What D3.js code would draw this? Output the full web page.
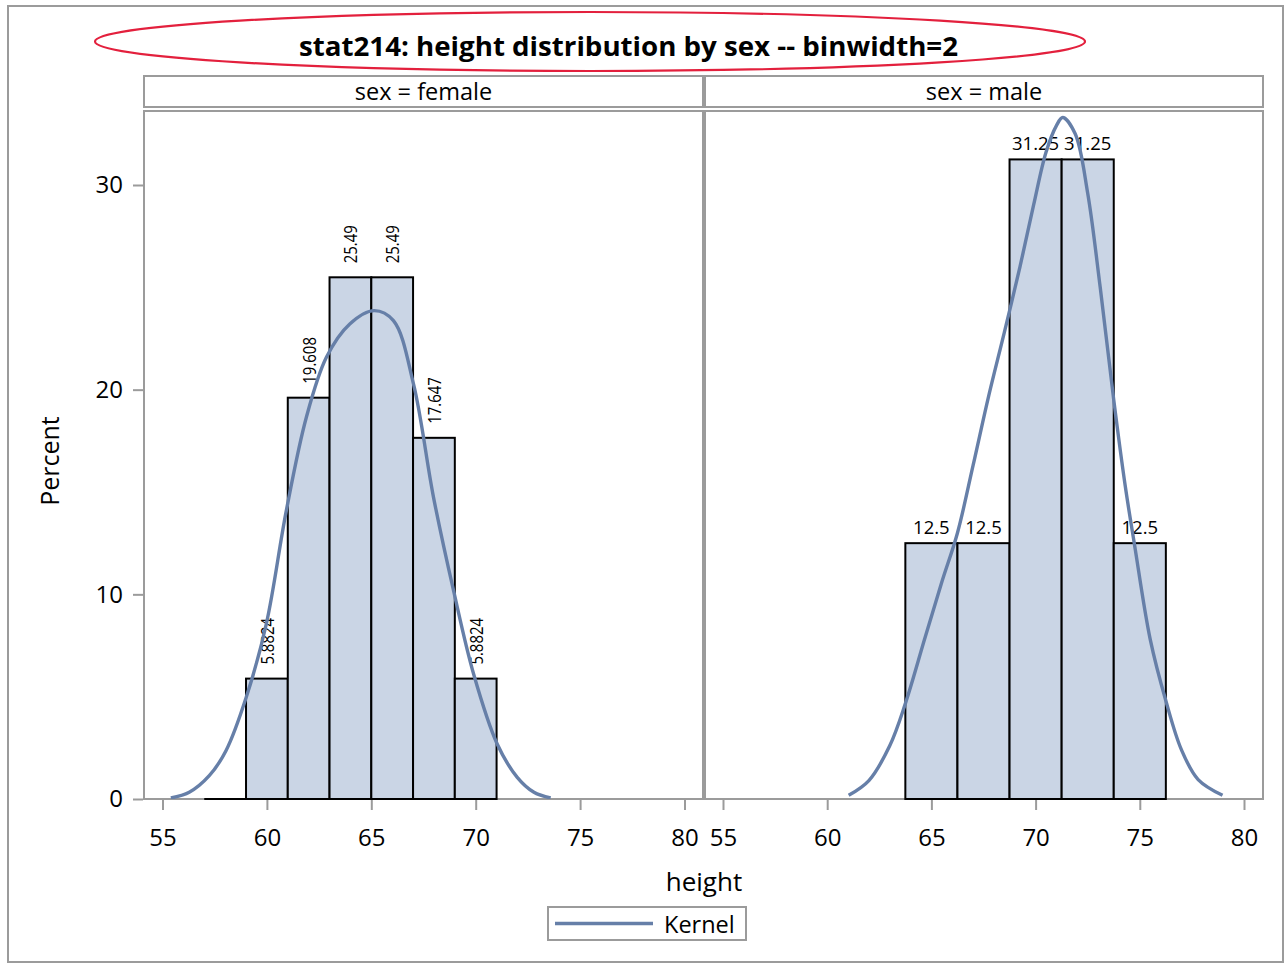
<!DOCTYPE html>
<html>
<head>
<meta charset="utf-8">
<script src="https://cdn.jsdelivr.net/npm/d3@7"></script>
<style>
  html, body { margin: 0; padding: 0; background: #fff; }
  svg { display: block; }
  text { font-family: "Open Sans", "Noto Sans", sans-serif; fill: #000; }
</style>
</head>
<body>
<svg id="chart" width="1285" height="964"></svg>
<script>
// ---- data ----
const panels = ["female", "male"];
const xTicks = [55, 60, 65, 70, 75, 80];
const yTicks = [0, 10, 20, 30];

// histogram bins (lower edge, upper edge) and percentages
const femaleBinStart = [57, 59, 61, 63, 65, 67, 69];
const femaleBinEnd   = [59, 61, 63, 65, 67, 69, 71];
const femalePercent  = [0, 5.8824, 19.608, 25.49, 25.49, 17.647, 5.8824];
const femaleLabels   = ["", "5.8824", "19.608", "25.49", "25.49", "17.647", "5.8824"];

const maleBinStart = [63.75, 66.25, 68.75, 71.25, 73.75];
const maleBinEnd   = [66.25, 68.75, 71.25, 73.75, 76.25];
const malePercent  = [12.5, 12.5, 31.25, 31.25, 12.5];
const maleLabels   = ["12.5", "12.5", "31.25", "31.25", "12.5"];

// kernel density estimate (height, percent)
const femaleKernelX = [55.40, 56.28, 57.24, 58.04, 59.01, 59.97, 60.93, 61.89, 62.85, 63.97, 65.13, 66.06, 67.02, 67.98, 68.94, 69.90, 71.03, 71.99, 72.79, 73.59];
const femaleKernelY = [0.05, 0.33, 1.14, 2.36, 4.97, 8.55, 14.09, 18.65, 21.58, 23.21, 23.86, 23.37, 20.28, 14.74, 10.18, 6.11, 2.69, 1.06, 0.33, 0.05];
const maleKernelX = [61.03, 62.0, 63.0, 63.75, 64.7, 65.5, 66.25, 67.0, 67.75, 68.5, 69.25, 69.9, 70.5, 71.0, 71.3, 71.9, 72.5, 73.1, 73.75, 74.3, 74.75, 75.5, 76.25, 77.0, 77.8, 78.97];
const maleKernelY = [0.18, 0.9, 2.6, 4.66, 7.9, 10.6, 13.0, 16.3, 19.7, 22.8, 26.0, 29.0, 31.6, 32.9, 33.3, 32.5, 29.6, 25.0, 19.5, 15.3, 12.4, 7.8, 4.8, 2.4, 0.95, 0.18];

const titleText = "stat214: height distribution by sex -- binwidth=2";
const xLabel = "height";
const yLabel = "Percent";
const legendLabel = "Kernel";

// ---- styles ----
const frameGray = "#9b9b9b";
const barFill = "#cad5e5";
const curveColor = "#667fa8";

const svg = d3.select("#chart");

// squeeze a text element to a share of its natural length
function condense(sel, ratio) {
  sel.each(function () {
    const w = this.getComputedTextLength();
    d3.select(this).attr("textLength", w * ratio).attr("lengthAdjust", "spacingAndGlyphs");
  });
}

// outer frame
svg.append("rect").attr("x", 8).attr("y", 6).attr("width", 1275).attr("height", 956)
  .attr("fill", "none").attr("stroke", frameGray).attr("stroke-width", 2);

// title with ellipse
svg.append("ellipse").attr("cx", 590).attr("cy", 41.5).attr("rx", 495).attr("ry", 29.5)
  .attr("fill", "none").attr("stroke", "#e3203d").attr("stroke-width", 2.2);
svg.append("text").attr("x", 628.5).attr("y", 56)
  .attr("text-anchor", "middle").attr("font-size", 27.5).attr("font-weight", "bold")
  .attr("textLength", 659).attr("lengthAdjust", "spacingAndGlyphs")
  .text(titleText);

// panel geometry
const yTop = 111, yBottom = 799;
const panelBox = {
  female: { x0: 144, x1: 703, r0: 162.5, r1: 684.5 },
  male:   { x0: 705, x1: 1263, r0: 723, r1: 1244 }
};
const y = d3.scaleLinear().domain([0, 30]).range([yBottom, 185]);

const dataBy = {
  female: { s: femaleBinStart, e: femaleBinEnd, p: femalePercent, l: femaleLabels, kx: femaleKernelX, ky: femaleKernelY, rotate: true },
  male:   { s: maleBinStart, e: maleBinEnd, p: malePercent, l: maleLabels, kx: maleKernelX, ky: maleKernelY, rotate: false }
};

const defs = svg.append("defs");

panels.forEach((name, pi) => {
  const b = panelBox[name];
  const d = dataBy[name];
  const x = d3.scaleLinear().domain([55, 80]).range([b.r0, b.r1]);

  // header strip
  svg.append("rect").attr("x", b.x0).attr("y", 76).attr("width", b.x1 - b.x0).attr("height", 31)
    .attr("fill", "#fff").attr("stroke", frameGray).attr("stroke-width", 2);
  svg.append("text").attr("x", (b.x0 + b.x1) / 2).attr("y", 100)
    .attr("text-anchor", "middle").attr("font-size", 23.5)
    .text("sex = " + name);

  // clip
  defs.append("clipPath").attr("id", "clip-" + name)
    .append("rect").attr("x", b.x0).attr("y", yTop).attr("width", b.x1 - b.x0).attr("height", yBottom - yTop);

  // panel frame (bars sit on top of its bottom edge)
  svg.append("rect").attr("x", b.x0).attr("y", yTop).attr("width", b.x1 - b.x0).attr("height", yBottom - yTop)
    .attr("fill", "none").attr("stroke", frameGray).attr("stroke-width", 2);

  const g = svg.append("g");

  // bars; empty bins show only their outline along the baseline
  const bins = d.s.map((s, i) => ({ s, e: d.e[i], p: d.p[i], label: d.l[i] }));
  g.selectAll("rect.bar").data(bins.filter(v => v.p > 0)).join("rect").attr("class", "bar")
    .attr("x", v => x(v.s)).attr("width", v => x(v.e) - x(v.s))
    .attr("y", v => y(v.p)).attr("height", v => y(0) - y(v.p))
    .attr("fill", barFill).attr("stroke", "#000").attr("stroke-width", 2);
  g.selectAll("line.empty").data(bins.filter(v => v.p === 0)).join("line").attr("class", "empty")
    .attr("x1", v => x(v.s)).attr("x2", v => x(v.e))
    .attr("y1", y(0)).attr("y2", y(0))
    .attr("stroke", "#000").attr("stroke-width", 2);

  // bar value labels
  const labeled = bins.filter(v => v.label !== "");
  if (d.rotate) {
    const t = g.selectAll("text.val").data(labeled).join("text").attr("class", "val")
      .attr("transform", v => `translate(${x((v.s + v.e) / 2) + 7},${y(v.p) - 14}) rotate(-90)`)
      .attr("font-size", 18).text(v => v.label);
    condense(t, 0.83);
  } else {
    g.selectAll("text.val").data(labeled).join("text").attr("class", "val")
      .attr("x", v => x((v.s + v.e) / 2)).attr("y", v => y(v.p) - 9)
      .attr("text-anchor", "middle").attr("font-size", 18.5).text(v => v.label);
  }

  // kernel curve
  const pts = d.kx.map((kx, i) => [kx, d.ky[i]]);
  const line = d3.line().x(p => x(p[0])).y(p => y(p[1])).curve(d3.curveCatmullRom.alpha(0.5));
  svg.append("path").attr("d", line(pts)).attr("clip-path", `url(#clip-${name})`)
    .attr("fill", "none").attr("stroke", curveColor).attr("stroke-width", 3.4)
    .attr("stroke-linecap", "butt");

  // x axis
  const xa = svg.append("g").attr("transform", `translate(0,${yBottom + 1})`)
    .call(d3.axisBottom(x).tickValues(xTicks).tickSize(10).tickPadding(19).tickSizeOuter(0));
  xa.select(".domain").remove();
  xa.selectAll(".tick line").attr("stroke", frameGray).attr("stroke-width", 2);
  xa.selectAll(".tick text").attr("font-size", 24).attr("font-family", "\"Open Sans\", sans-serif").attr("fill", "#000");

  // y axis on the first panel
  if (pi === 0) {
    const ya = svg.append("g").attr("transform", `translate(${b.x0 - 1},0)`)
      .call(d3.axisLeft(y).tickValues(yTicks).tickSize(10).tickPadding(10).tickSizeOuter(0));
    ya.select(".domain").remove();
    ya.selectAll(".tick line").attr("stroke", frameGray).attr("stroke-width", 2);
    ya.selectAll(".tick text").attr("font-size", 24).attr("font-family", "\"Open Sans\", sans-serif").attr("fill", "#000");
  }
});

// axis titles
svg.append("text").attr("x", 704).attr("y", 891).attr("text-anchor", "middle")
  .attr("font-size", 26).text(xLabel);
svg.append("text").attr("transform", "translate(59,461) rotate(-90)").attr("text-anchor", "middle")
  .attr("font-size", 25).text(yLabel);

// legend
svg.append("rect").attr("x", 548).attr("y", 907).attr("width", 198).attr("height", 33)
  .attr("fill", "#fff").attr("stroke", frameGray).attr("stroke-width", 2);
svg.append("line").attr("x1", 555).attr("x2", 653).attr("y1", 923.5).attr("y2", 923.5)
  .attr("stroke", curveColor).attr("stroke-width", 3.4);
svg.append("text").attr("x", 664).attr("y", 933).attr("font-size", 23.5).text(legendLabel);
</script>
</body>
</html>
